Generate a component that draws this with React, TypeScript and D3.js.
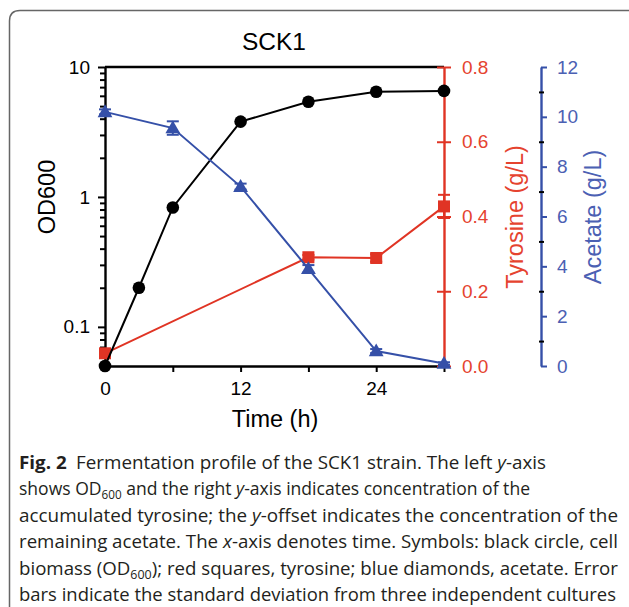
import React, { useEffect, useRef } from "react";
import * as d3 from "d3";

const W = 629;
const H = 607;

// sampling times (h)
const odTimes = [0, 3, 6, 12, 18, 24, 30];
const odValues = [0.05, 0.2, 0.83, 3.8, 5.4, 6.45, 6.55];

const tyrTimes = [0, 18, 24, 30];
const tyrValues = [0.034, 0.291, 0.289, 0.427];
const tyrErr = [0.004, 0.006, 0.01, 0.031];

const acTimes = [0, 6, 12, 18, 24, 30];
const acValues = [10.2, 9.55, 7.2, 3.9, 0.6, 0.1];
const acErr = [0.1, 0.27, 0.12, 0.15, 0.08, 0.05];

const xMajor = [0, 12, 24];
const xMinor = [6, 18, 30];
const odMajor = [0.1, 1, 10];
const tyrTicks = [0, 0.2, 0.4, 0.6, 0.8];
const acTicks = [0, 2, 4, 6, 8, 10, 12];
const acMinor = [1, 3, 5, 7, 9, 11];

const RED = "#e03424";
const BLUE = "#3550a8";
const RED_TXT = "#e5432f";
const BLUE_TXT = "#4b60b3";

const margin = { left: 105, right: 444, top: 67, bottom: 366 };
const acX = 541;

const x = d3.scaleLinear().domain([0, 30]).range([margin.left, margin.right]);
const yOD = d3.scaleLog().domain([0.05, 10]).range([margin.bottom, margin.top]);
const yTyr = d3.scaleLinear().domain([0, 0.8]).range([margin.bottom, margin.top]);
const yAc = d3.scaleLinear().domain([0, 12]).range([margin.bottom, margin.top]);

const odMinor: number[] = [];
[0.01, 0.1, 1].forEach((d) => {
  for (let i = 2; i <= 9; i++) {
    const v = d * i;
    if (v >= 0.05 && v <= 10) odMinor.push(v);
  }
});

const font = "'Liberation Sans', Arial, sans-serif";
const tickFont = 19;
const titleFont = 23.5;

export default function App() {
  const leftRef = useRef<SVGGElement>(null);
  const leftMinorRef = useRef<SVGGElement>(null);
  const botRef = useRef<SVGGElement>(null);
  const botMinorRef = useRef<SVGGElement>(null);
  const tyrRef = useRef<SVGGElement>(null);
  const acRef = useRef<SVGGElement>(null);
  const acMinorRef = useRef<SVGGElement>(null);

  useEffect(() => {
    const style = (g: any, color: string, txtColor: string) => {
      g.attr("font-family", null).attr("font-size", null);
      g.selectAll("path").attr("stroke", color).attr("stroke-width", 2.4);
      g.selectAll("line").attr("stroke", color).attr("stroke-width", 2);
      g.selectAll("text")
        .attr("fill", txtColor)
        .style("font-family", font)
        .style("font-size", tickFont + "px");
    };

    const left = d3.select(leftRef.current!);
    left.call(
      d3.axisLeft(yOD).tickValues(odMajor).tickSize(7).tickSizeOuter(0).tickPadding(8)
        .tickFormat((d: any) => (d >= 1 ? d3.format("d")(d) : String(d)))
    );
    style(left, "#000", "#000");

    const leftMinor = d3.select(leftMinorRef.current!);
    leftMinor.call(d3.axisLeft(yOD).tickValues(odMinor).tickSize(5).tickSizeOuter(0).tickFormat(() => ""));
    leftMinor.select("path").remove();
    style(leftMinor, "#000", "#000");

    const bot = d3.select(botRef.current!);
    bot.call(d3.axisBottom(x).tickValues(xMajor).tickSize(6).tickSizeOuter(0).tickPadding(10));
    style(bot, "#000", "#000");

    const botMinor = d3.select(botMinorRef.current!);
    botMinor.call(d3.axisBottom(x).tickValues(xMinor).tickSize(6).tickSizeOuter(0).tickFormat(() => ""));
    botMinor.select("path").remove();
    style(botMinor, "#000", "#000");

    const tyr = d3.select(tyrRef.current!);
    tyr.call(
      d3.axisRight(yTyr).tickValues(tyrTicks).tickSize(7).tickSizeOuter(0).tickPadding(11)
        .tickFormat(d3.format(".1f") as any)
    );
    tyr.selectAll(".tick line").attr("x1", -7);
    style(tyr, RED, RED_TXT);

    const ac = d3.select(acRef.current!);
    ac.call(
      d3.axisRight(yAc).tickValues(acTicks).tickSize(6).tickSizeOuter(0).tickPadding(10)
        .tickFormat(d3.format("d") as any)
    );
    style(ac, BLUE, BLUE_TXT);

    const acMinorG = d3.select(acMinorRef.current!);
    acMinorG.call(d3.axisRight(yAc).tickValues(acMinor).tickSize(3).tickSizeOuter(0).tickFormat(() => ""));
    acMinorG.select("path").remove();
    acMinorG.selectAll(".tick line").attr("x1", -2);
    style(acMinorG, "#000", "#000");
  }, []);

  const odLine = d3.line<number>().x((_, i) => x(odTimes[i])).y((d) => yOD(d))(odValues) || "";
  const tyrLine = d3.line<number>().x((_, i) => x(tyrTimes[i])).y((d) => yTyr(d))(tyrValues) || "";
  const acLine = d3.line<number>().x((_, i) => x(acTimes[i])).y((d) => yAc(d))(acValues) || "";
  const tri = d3.symbol().type(d3.symbolTriangle).size(95)() || "";

  const captionLines = [
    { len: 527, parts: [["b", "Fig. 2"], ["n", "\u2002Fermentation profile of the SCK1 strain. The left "], ["i", "y"], ["n", "-axis"]] },
    { len: 511, parts: [["n", "shows OD"], ["s", "600"], ["n", " and the right "], ["i", "y"], ["n", "-axis indicates concentration of the"]] },
    { len: 599, parts: [["n", "accumulated tyrosine; the "], ["i", "y"], ["n", "-offset indicates the concentration of the"]] },
    { len: 599, parts: [["n", "remaining acetate. The "], ["i", "x"], ["n", "-axis denotes time. Symbols: black circle, cell"]] },
    { len: 599, parts: [["n", "biomass (OD"], ["s", "600"], ["n", "); red squares, tyrosine; blue diamonds, acetate. Error"]] },
    { len: 597, parts: [["n", "bars indicate the standard deviation from three independent cultures"]] },
  ];

  return (
    <svg width={W} height={H} style={{ position: "absolute", left: 0, top: 0, background: "#fff" }}>
      <path d={`M9.5,${H + 10} L9.5,21 Q9.5,10.5 20,10.5 L${W + 10},10.5`} fill="none" stroke="#666" strokeWidth={1.5} />

      <text x={274} y={50} textAnchor="middle" fontFamily={font} fontSize={24.5}>SCK1</text>

      <line x1={margin.left} x2={margin.right} y1={margin.top} y2={margin.top} stroke="#000" strokeWidth={2.4} />
      <g ref={botMinorRef} transform={`translate(0,${margin.bottom})`} />
      <g ref={botRef} transform={`translate(0,${margin.bottom})`} />
      <g ref={leftMinorRef} transform={`translate(${margin.left},0)`} />
      <g ref={leftRef} transform={`translate(${margin.left},0)`} />
      <g ref={tyrRef} transform={`translate(${margin.right},0)`} />
      <g ref={acRef} transform={`translate(${acX},0)`} />
      <g ref={acMinorRef} transform={`translate(${acX},0)`} />

      <text transform="translate(55,197) rotate(-90)" textAnchor="middle" fontFamily={font} fontSize={titleFont}>OD600</text>
      <text x={275} y={427} textAnchor="middle" fontFamily={font} fontSize={titleFont}>Time (h)</text>
      <text transform="translate(523,217) rotate(-90)" textAnchor="middle" fontFamily={font} fontSize={titleFont} fill={RED_TXT}>Tyrosine (g/L)</text>
      <text transform="translate(601,217) rotate(-90)" textAnchor="middle" fontFamily={font} fontSize={titleFont} fill={BLUE_TXT}>Acetate (g/L)</text>

      {/* tyrosine */}
      <path d={tyrLine} fill="none" stroke={RED} strokeWidth={2} />
      {tyrValues.map((v, i) => (
        <g key={"te" + i} stroke={RED} strokeWidth={2}>
          <line x1={x(tyrTimes[i])} x2={x(tyrTimes[i])} y1={yTyr(v - tyrErr[i])} y2={yTyr(v + tyrErr[i])} />
          <line x1={x(tyrTimes[i]) - 6} x2={x(tyrTimes[i]) + 6} y1={yTyr(v - tyrErr[i])} y2={yTyr(v - tyrErr[i])} />
          <line x1={x(tyrTimes[i]) - 6} x2={x(tyrTimes[i]) + 6} y1={yTyr(v + tyrErr[i])} y2={yTyr(v + tyrErr[i])} />
        </g>
      ))}
      {tyrValues.map((v, i) => (
        <rect key={"ts" + i} x={x(tyrTimes[i]) - 6} y={yTyr(v) - 6} width={12} height={12} fill={RED} />
      ))}

      {/* OD600 */}
      <path d={odLine} fill="none" stroke="#000" strokeWidth={2} />
      {odValues.map((v, i) => (
        <circle key={"od" + i} cx={x(odTimes[i])} cy={yOD(v)} r={6.3} fill="#000" />
      ))}

      {/* acetate */}
      <path d={acLine} fill="none" stroke={BLUE} strokeWidth={2} />
      {acValues.map((v, i) => (
        <g key={"ae" + i} stroke={BLUE} strokeWidth={2}>
          <line x1={x(acTimes[i])} x2={x(acTimes[i])} y1={yAc(v - acErr[i])} y2={yAc(v + acErr[i])} />
          <line x1={x(acTimes[i]) - 6} x2={x(acTimes[i]) + 6} y1={yAc(v - acErr[i])} y2={yAc(v - acErr[i])} />
          <line x1={x(acTimes[i]) - 6} x2={x(acTimes[i]) + 6} y1={yAc(v + acErr[i])} y2={yAc(v + acErr[i])} />
        </g>
      ))}
      {acValues.map((v, i) => (
        <path key={"at" + i} d={tri} transform={`translate(${x(acTimes[i])},${yAc(v) + 1})`} fill={BLUE} />
      ))}

      {/* caption */}
      {captionLines.map((ln, i) => (
        <text key={"c" + i} x={19} y={469 + i * 26.4} fontFamily="'Open Sans', 'Noto Sans', sans-serif" fontSize={18}
          fill="#231f20" textLength={ln.len} lengthAdjust="spacingAndGlyphs">
          {ln.parts.map(([k, s], j) => (
            <tspan key={j}
              fontWeight={k === "b" ? "bold" : undefined}
              fontStyle={k === "i" ? "italic" : undefined}
              fontSize={k === "s" ? 12 : undefined}
              dy={k === "s" ? 4 : j > 0 && ln.parts[j - 1][0] === "s" ? -4 : undefined}>
              {s}
            </tspan>
          ))}
        </text>
      ))}
    </svg>
  );
}
